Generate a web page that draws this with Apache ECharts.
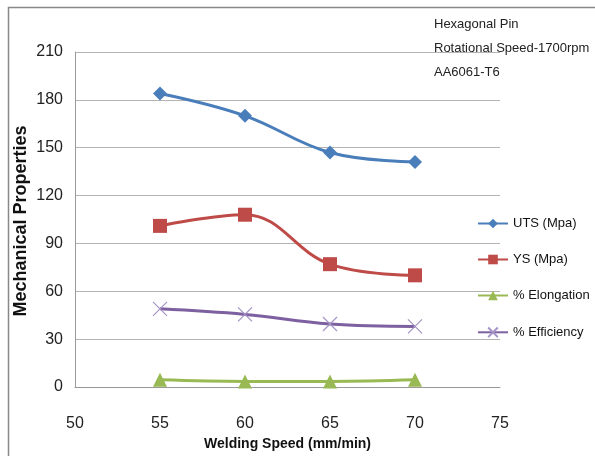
<!DOCTYPE html>
<html><head><meta charset="utf-8">
<script src="https://cdn.jsdelivr.net/npm/echarts@6/dist/echarts.min.js"></script>
<style>html,body{margin:0;padding:0;background:#fff}#c{width:595px;height:456px}</style>
</head><body><div id="c"></div>
<script>
const speeds = [55, 60, 65, 70];
const uts = [184, 170, 147, 141];
const ys = [101, 108, 77, 70];
const elongation = [4.5, 3.5, 3.5, 4.5];
const efficiency = [49, 45.5, 39.5, 38];
const seriesNames = ['UTS (Mpa)', 'YS (Mpa)', '% Elongation', '% Efficiency'];
const annotation = ['Hexagonal Pin', 'Rotational Speed-1700rpm', 'AA6061-T6'];
const yTitle = 'Mechanical Properties';

const FONT = '"Liberation Sans Narrow", "Liberation Sans", sans-serif';
const pair = arr => speeds.map((s, i) => [s, arr[i]]);
const xPath = 'path://M0,0L10,10M10,0L0,10';

const chart = echarts.init(document.getElementById('c'));
chart.setOption({
  animation: false,
  textStyle: { fontFamily: FONT },
  grid: { left: 75, right: 95, top: 52, bottom: 69 },
  graphic: [
    { type: 'rect', shape: { x: 8.5, y: 7.5, width: 600, height: 460 }, style: { fill: 'none', stroke: '#888', lineWidth: 1.5 } },
    { type: 'text', left: 434, top: 12, style: { text: annotation.join('\n'), font: '13px ' + FONT, fill: '#222', lineHeight: 24 } },
    { type: 'text', x: 21, y: 221, rotation: Math.PI / 2,
      style: { text: yTitle, font: 'bold 18px ' + FONT, fill: '#111', textAlign: 'center', textVerticalAlign: 'middle' } }
  ],
  xAxis: {
    type: 'value', min: 50, max: 75, interval: 5,
    name: 'Welding Speed (mm/min)', nameLocation: 'middle', nameGap: 44,
    nameTextStyle: { fontSize: 14, fontWeight: 'bold', color: '#111', fontFamily: FONT },
    axisLine: { show: true, lineStyle: { color: '#999' } },
    axisTick: { show: false },
    axisLabel: { fontSize: 16, color: '#222', margin: 29 },
    splitLine: { show: false }
  },
  yAxis: {
    type: 'value', min: 0, max: 210, interval: 30,
    axisLine: { show: true, lineStyle: { color: '#999' } },
    axisTick: { show: false },
    axisLabel: { fontSize: 16, color: '#222', margin: 12 },
    splitLine: { show: true, lineStyle: { color: '#b3b3b3' } }
  },
  legend: {
    orient: 'vertical', left: 472, top: 212, itemGap: 23,
    itemWidth: 30, itemHeight: 12,
    textStyle: { fontSize: 13, color: '#111', fontFamily: FONT },
    data: seriesNames
  },
  series: [
    { name: seriesNames[0], type: 'line', smooth: 0.4, data: pair(uts), symbol: 'diamond', symbolSize: 14,
      lineStyle: { width: 3, color: '#4A7EBB' }, itemStyle: { color: '#4A7EBB' } },
    { name: seriesNames[1], type: 'line', smooth: 0.4, data: pair(ys), symbol: 'rect', symbolSize: 14,
      lineStyle: { width: 3, color: '#BE4B48' }, itemStyle: { color: '#BE4B48' } },
    { name: seriesNames[2], type: 'line', smooth: 0.4, data: pair(elongation), symbol: 'triangle', symbolSize: 14,
      lineStyle: { width: 3, color: '#98B954' }, itemStyle: { color: '#98B954' } },
    { name: seriesNames[3], type: 'line', smooth: 0.4, data: pair(efficiency), symbol: xPath, symbolSize: 14,
      lineStyle: { width: 3, color: '#7D60A0' }, itemStyle: { color: 'none', borderColor: '#A593C6', borderWidth: 1.2 } }
  ]
});
</script></body></html>
